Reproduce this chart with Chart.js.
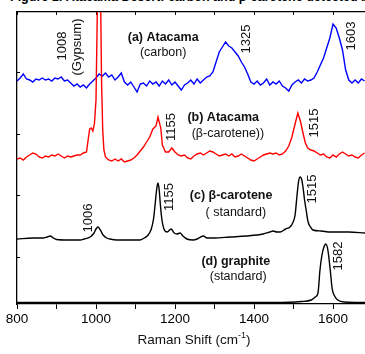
<!DOCTYPE html>
<html>
<head>
<meta charset="utf-8">
<script src="https://cdn.jsdelivr.net/npm/chart.js@4.4.1/dist/chart.umd.min.js"></script>
<style>
  html, body { margin: 0; padding: 0; background: #fff; overflow: hidden; }
  #wrap { position: relative; width: 365px; height: 354px; overflow: hidden; }
  #fig { position: absolute; left: 10px; top: -10px; font: bold 12.5px Arial, "Liberation Sans", sans-serif; line-height: 14px; white-space: nowrap; color: #000; }
  canvas { position: absolute; left: 0; top: 0; }
</style>
</head>
<body>
<div id="wrap">
  <div id="fig">Figure 1: Atacama Desert: carbon and β-carotene detected by Raman</div>
  <canvas id="chart" width="365" height="354"></canvas>
</div>
<script>
const FONT = 'Arial, "Liberation Sans", sans-serif';

// (a) Atacama, carbon (blue)
const carbonShift = [
  800, 808, 816, 824, 832, 840, 848, 856, 864, 872,
  880, 888, 896, 904, 912, 920, 928, 936, 944, 952,
  960, 968, 976, 984, 992, 1000, 1008, 1016, 1024, 1032,
  1040, 1048, 1056, 1064, 1072, 1080, 1088, 1096, 1104, 1112,
  1120, 1128, 1136, 1144, 1152, 1160, 1168, 1176, 1184, 1192,
  1200, 1208, 1216, 1224, 1232, 1240, 1248, 1256, 1264, 1272,
  1280, 1288, 1296, 1304, 1312, 1320, 1328, 1336, 1344, 1352,
  1360, 1368, 1376, 1384, 1392, 1400, 1408, 1416, 1424, 1432,
  1440, 1448, 1456, 1464, 1472, 1480, 1488, 1496, 1504, 1512,
  1520, 1528, 1536, 1544, 1552, 1560, 1568, 1576, 1584, 1592,
  1600, 1608, 1616, 1624, 1632, 1640, 1648, 1656, 1664, 1672,
  1680
];
const carbonIntensity = [
  223, 226, 230, 225, 224, 222, 225, 224, 226, 224,
  225, 223, 226, 225, 227, 223, 224, 221, 218, 220,
  217, 219, 216, 220, 223, 226, 230, 228, 231, 227,
  229, 224, 227, 231, 222, 219, 222, 217, 212, 220,
  221, 218, 223, 220, 222, 218, 223, 220, 224, 219,
  222, 218, 214, 219, 221, 224, 220, 225, 221, 224,
  227, 228, 232, 242, 252, 257, 262, 258, 256, 252,
  248, 242, 237, 230, 222, 220, 223, 219, 221, 225,
  219, 222, 220, 223, 218, 216, 213, 219, 222, 224,
  221, 225, 223, 224, 226, 232, 239, 246, 256, 266,
  280, 276, 266, 254, 234, 224, 221, 224, 221, 225,
  223
];

// (b) Atacama, beta-carotene (red)
const atacamaShift = [
  800, 808, 816, 824, 832, 840, 848, 856, 864, 872,
  880, 888, 896, 904, 912, 920, 928, 936, 944, 952,
  960, 968, 976, 980, 984, 988, 992, 996, 1000, 1003,
  1007.5, 1012, 1014, 1017, 1020, 1024, 1032, 1040, 1048, 1056,
  1064, 1072, 1080, 1088, 1096, 1104, 1112, 1120, 1128, 1136,
  1144, 1152, 1157, 1164, 1168, 1176, 1184, 1192, 1200, 1208,
  1216, 1224, 1232, 1240, 1248, 1256, 1264, 1272, 1280, 1288,
  1296, 1304, 1312, 1320, 1328, 1336, 1344, 1352, 1360, 1368,
  1376, 1384, 1392, 1400, 1408, 1416, 1424, 1432, 1440, 1448,
  1456, 1464, 1472, 1480, 1488, 1496, 1504, 1511, 1518, 1524,
  1530, 1536, 1544, 1552, 1560, 1568, 1576, 1584, 1592, 1600,
  1608, 1616, 1624, 1632, 1640, 1648, 1656, 1664, 1672, 1680
];
const atacamaIntensity = [
  145, 146, 144, 147, 149, 151, 150, 147, 146, 148,
  147, 149, 148, 150, 148, 146, 148, 147, 148, 149,
  149, 151, 152, 164, 175, 176, 173, 180, 204, 284,
  504, 294, 224, 174, 154, 147, 144, 143, 145, 143,
  145, 142, 143, 144, 146, 149, 153, 157, 162, 167,
  175, 178, 187, 176, 159, 152, 152, 156, 152, 149,
  148, 149, 146, 145, 148, 150, 151, 149, 151, 153,
  152, 150, 148, 149, 150, 148, 150, 147, 148, 150,
  148, 146, 144, 143, 145, 147, 149, 150, 151, 150,
  151, 149, 150, 153, 158, 167, 180, 191, 182, 171,
  161, 156, 154, 153, 151, 149, 150, 147, 146, 149,
  147, 150, 152, 150, 148, 149, 147, 146, 149, 151
];

// (c) beta-carotene standard (black)
const caroteneShift = [
  800, 840, 866, 876, 884, 892, 900, 930, 960, 970,
  985, 995, 1000, 1005, 1011, 1018, 1027, 1035, 1053, 1080,
  1111, 1122, 1132, 1140, 1146, 1150, 1154, 1157, 1160, 1163,
  1167, 1172, 1180, 1190, 1198, 1205, 1213, 1220, 1230, 1246,
  1256, 1265, 1272, 1281, 1300, 1339, 1380, 1423, 1440, 1448,
  1458, 1466, 1480, 1491, 1498, 1504, 1509, 1513, 1517, 1521,
  1524, 1528, 1532, 1537, 1543, 1549, 1570, 1593, 1640, 1681
];
const caroteneIntensity = [
  65, 66, 66, 67, 68, 66, 64.5, 64, 64, 65,
  67, 71, 75, 77, 74, 69, 66, 65, 64, 64,
  64, 66, 69, 75, 86, 101, 116, 121, 114, 99,
  84, 75, 72, 75, 71, 70, 71, 68, 65, 64,
  65, 67, 68, 66, 66, 67, 68, 70, 72, 73,
  72, 72, 75, 77, 81, 89, 109, 123, 127, 124,
  117, 104, 94, 82, 77, 74, 73, 72, 72, 71
];

// (d) graphite standard (black)
const graphiteShift = [800, 1450, 1520, 1545, 1555, 1562, 1567, 1572, 1577, 1582, 1587, 1593, 1598, 1604, 1612, 1630, 1681];
const graphiteIntensity = [1.5, 1.5, 2.5, 4, 7, 11, 34, 49, 57, 60, 54, 34, 15, 8, 4, 2, 1.5];

const shiftRange = [800, 1681];
const intensityRange = [0, 292];
const intensityTicks = [47, 108.3, 169.6, 231];

const peakLabels = [
  { text: "1008", shift: 916, level: 258 },
  { text: "(Gypsum)", shift: 954, level: 257 },
  { text: "1325", shift: 1380, level: 265 },
  { text: "1603", shift: 1646, level: 268 },
  { text: "1155", shift: 1192, level: 177 },
  { text: "1515", shift: 1552, level: 181 },
  { text: "1006", shift: 982, level: 86 },
  { text: "1155", shift: 1187, level: 107 },
  { text: "1515", shift: 1549, level: 115 },
  { text: "1582", shift: 1613, level: 48 }
];
const sampleLabels = [
  { text: "(a) Atacama", shift: 1170, level: 266, bold: true },
  { text: "(carbon)", shift: 1170, level: 251 },
  { text: "(b) Atacama", shift: 1322, level: 186, bold: true },
  { text: "(β-carotene))", shift: 1334, level: 170 },
  { text: "(c) β-carotene", shift: 1342, level: 108, bold: true },
  { text: "( standard)", shift: 1354, level: 91 },
  { text: "(d) graphite", shift: 1354, level: 42, bold: true },
  { text: "(standard)", shift: 1360, level: 27 }
];

function toPoints(xs, ys) {
  return xs.map((x, i) => ({ x, y: ys[i] }));
}

function spectrum(label, xs, ys, color, smooth) {
  return {
    label,
    data: toPoints(xs, ys),
    borderColor: color,
    borderWidth: 1.4,
    pointRadius: 0,
    fill: false,
    tension: smooth ? 0.4 : 0,
    cubicInterpolationMode: smooth ? "monotone" : "default"
  };
}

const textPlugin = {
  id: "textPlugin",
  afterDatasetsDraw(chart) {
    const { ctx } = chart;
    const x = chart.scales.x;
    const y = chart.scales.y;
    ctx.save();
    ctx.fillStyle = "#111";
    ctx.textAlign = "center";
    ctx.textBaseline = "middle";

    peakLabels.forEach((l) => {
      ctx.save();
      ctx.translate(x.getPixelForValue(l.shift), y.getPixelForValue(l.level));
      ctx.rotate(-Math.PI / 2);
      ctx.font = "13px " + FONT;
      ctx.fillText(l.text, 0, 0);
      ctx.restore();
    });

    sampleLabels.forEach((l) => {
      ctx.font = (l.bold ? "bold " : "") + "12.5px " + FONT;
      ctx.fillText(l.text, x.getPixelForValue(l.shift), y.getPixelForValue(l.level));
    });

    // axis title with superscript
    const main = "Raman Shift (cm";
    const sup = "-1";
    const tail = ")";
    ctx.textAlign = "left";
    ctx.textBaseline = "alphabetic";
    ctx.font = "13.5px " + FONT;
    const w1 = ctx.measureText(main).width;
    const w3 = ctx.measureText(tail).width;
    ctx.font = "9px " + FONT;
    const w2 = ctx.measureText(sup).width;
    const cx = (chart.chartArea.left + chart.chartArea.right) / 2 + 3;
    const base = x.bottom - 10.5;
    let px = cx - (w1 + w2 + w3) / 2;
    ctx.font = "13.5px " + FONT;
    ctx.fillText(main, px, base);
    px += w1;
    ctx.font = "9px " + FONT;
    ctx.fillText(sup, px, base - 5.5);
    px += w2;
    ctx.font = "13.5px " + FONT;
    ctx.fillText(tail, px, base);
    ctx.restore();
  }
};

new Chart(document.getElementById("chart"), {
  type: "line",
  data: {
    datasets: [
      spectrum("(d) graphite", graphiteShift, graphiteIntensity, "#000000", true),
      spectrum("(c) beta-carotene", caroteneShift, caroteneIntensity, "#000000", true),
      spectrum("(b) Atacama", atacamaShift, atacamaIntensity, "#ff0000", false),
      spectrum("(a) Atacama", carbonShift, carbonIntensity, "#0000ff", false)
    ]
  },
  options: {
    responsive: false,
    animation: false,
    layout: { padding: 0 },
    plugins: { legend: { display: false }, tooltip: { enabled: false } },
    scales: {
      x: {
        type: "linear",
        position: "bottom",
        min: shiftRange[0],
        max: shiftRange[1],
        ticks: {
          stepSize: 100,
          includeBounds: false,
          autoSkip: false,
          maxRotation: 0,
          padding: 2,
          color: "#000",
          font: { family: FONT, size: 13.5 },
          callback: (v) => (v % 200 === 0 ? String(v) : "")
        },
        afterBuildTicks: (s) => {
          s.ticks = s.ticks.filter((t) => t.value % 100 === 0);
        },
        grid: { display: true, drawOnChartArea: false, drawTicks: true, tickLength: 5, color: "#000", lineWidth: 1 },
        border: { display: true, color: "#000", width: 1.3 },
        afterFit: (s) => {
          s.height = 50;
          s.paddingLeft = 0;
          s.paddingRight = 0;
        }
      },
      x2: {
        type: "linear",
        position: "top",
        min: shiftRange[0],
        max: shiftRange[1],
        ticks: { display: false, stepSize: 100, includeBounds: false },
        grid: { display: true, drawOnChartArea: false, drawTicks: true, tickLength: -3, color: "#000", lineWidth: 1 },
        border: { display: true, color: "#000", width: 1.3 },
        afterFit: (s) => {
          s.height = 12;
          s.paddingLeft = 0;
          s.paddingRight = 0;
        }
      },
      y: {
        type: "linear",
        position: "left",
        min: intensityRange[0],
        max: intensityRange[1],
        ticks: { display: false },
        afterBuildTicks: (s) => {
          s.ticks = intensityTicks.map((v) => ({ value: v }));
        },
        grid: { display: true, drawOnChartArea: false, drawTicks: true, tickLength: -3, color: "#000", lineWidth: 1 },
        border: { display: true, color: "#000", width: 1.3 },
        afterFit: (s) => {
          s.width = 17;
          s.paddingTop = 0;
          s.paddingBottom = 0;
        }
      }
    }
  },
  plugins: [textPlugin]
});
</script>
</body>
</html>
